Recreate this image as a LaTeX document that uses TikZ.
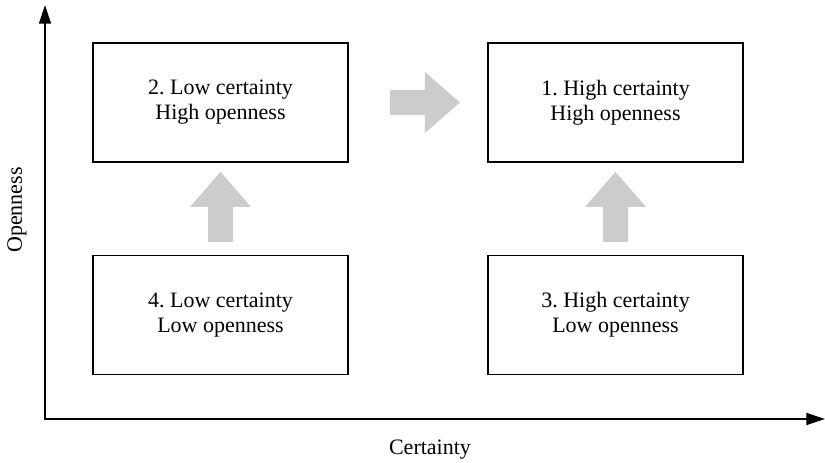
\documentclass[tikz,border=0pt]{standalone}
\usepackage{fontspec}
\setmainfont{Liberation Serif}
\usetikzlibrary{calc,arrows.meta}
\frenchspacing

\tikzset{
    quad/.style={draw, line width=1.2pt, minimum width=191.25pt, minimum height=89.25pt,
        align=center, font=\fontsize{16.5}{18.75}\selectfont},
    axislabel/.style={font=\fontsize{16.5}{18.75}\selectfont},
    blockarrow/.pic={
        \fill[black!20] (-35,-12.5) -- (0,-12.5) -- (0,-30.5) -- (35,0) -- (0,30.5) -- (0,12.5) -- (-35,12.5) -- cycle;
    }
}

\begin{document}
\begin{tikzpicture}[x=0.75pt,y=-0.75pt]
            \useasboundingbox (0,0) rectangle (825,463);

            % axes
            \coordinate (ytop) at (45,5);
            \coordinate (origin) at (45,419);
            \coordinate (xend) at (825,419);
            \draw[line width=1.2pt,{Triangle[length=14pt,width=9pt]}-{Triangle[length=14pt,width=9pt]}] (ytop) -- (origin) -- (xend);
            \node[axislabel,rotate=90] (ylab) at (17,210) {Openness};
            \node[axislabel] (xlab) at (430,450) {Certainty};

            % quadrants
            \node[quad] (q2) at (220.5,102.5) {2. Low certainty\\High openness};
            \node[quad] (q1) at (615.5,102.5) {1. High certainty\\High openness};
            \node[quad] (q4) at (220.5,315) {4. Low certainty\\Low openness};
            \node[quad] (q3) at (615.5,315) {3. High certainty\\Low openness};

            % moves
            \pic at ($(q2.east)!0.55!(q1.west)$) {blockarrow};
            \pic[rotate=90] at ($(q4.north)!0.52!(q2.south)$) {blockarrow};
            \pic[rotate=90] at ($(q3.north)!0.52!(q1.south)$) {blockarrow};
        \end{tikzpicture}
\end{document}
